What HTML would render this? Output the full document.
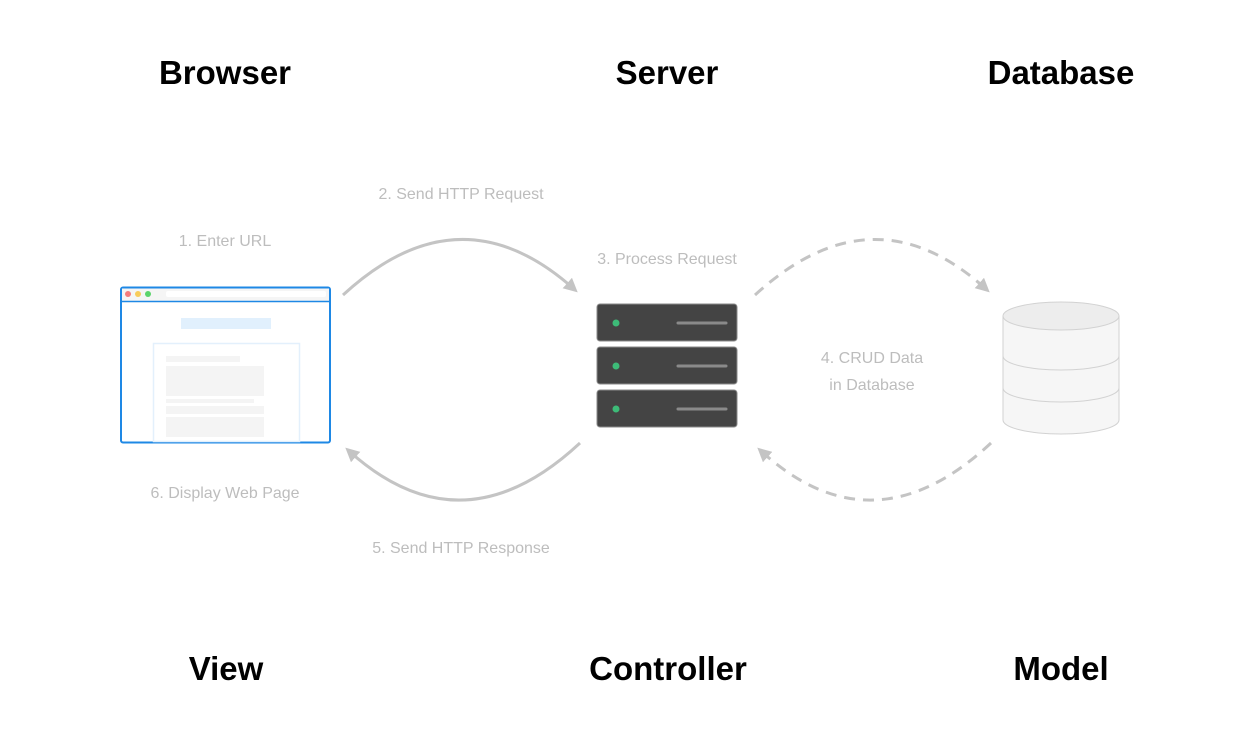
<!DOCTYPE html>
<html><head><meta charset="utf-8"><style>
html,body{margin:0;padding:0;background:#fff;}
svg{display:block;}
.h{font-family:"Liberation Sans",sans-serif;font-weight:bold;font-size:33px;fill:#000;text-anchor:middle;}
.l{font-family:"Liberation Sans",sans-serif;font-size:16px;fill:#bdbdbd;text-anchor:middle;}
</style></head><body>
<svg width="1260" height="740" viewBox="0 0 1260 740" xmlns="http://www.w3.org/2000/svg">
<defs>
<marker id="a" markerWidth="14" markerHeight="14" refX="9" refY="7" orient="auto" markerUnits="userSpaceOnUse" viewBox="0 0 14 14">
<path d="M0,0 L14,7 L0,14 z" fill="#c4c4c4"/></marker>
</defs>
<text class="h" x="225" y="84">Browser</text>
<text class="h" x="667" y="84">Server</text>
<text class="h" x="1061" y="84">Database</text>
<text class="h" x="226" y="680">View</text>
<text class="h" x="668" y="680">Controller</text>
<text class="h" x="1061" y="680">Model</text>

<text class="l" x="225" y="246">1. Enter URL</text>
<text class="l" x="461" y="199">2. Send HTTP Request</text>
<text class="l" x="667" y="264">3. Process Request</text>
<text class="l" x="872" y="363">4. CRUD Data</text>
<text class="l" x="872" y="390">in Database</text>
<text class="l" x="461" y="553">5. Send HTTP Response</text>
<text class="l" x="225" y="498">6. Display Web Page</text>

<g fill="none" stroke="#c4c4c4" stroke-width="3">
<path d="M343,295 Q460,187 574,289" marker-end="url(#a)"/>
<path d="M580,443 Q462,553 349,451" marker-end="url(#a)"/>
<path d="M755,295 Q873,187 986,289" stroke-dasharray="11,8" marker-end="url(#a)"/>
<path d="M991,443 Q873,553 761,451" stroke-dasharray="11,8" marker-end="url(#a)"/>
</g>

<rect x="121" y="287.5" width="209" height="155" rx="2" fill="#fff" stroke="#1e88e5" stroke-width="2"/>
<rect x="122" y="288.5" width="207" height="13" fill="#f5f5f5"/>
<line x1="121" y1="301.5" x2="330" y2="301.5" stroke="#1e88e5" stroke-width="1.5"/>
<circle cx="128" cy="294" r="3" fill="#f47c7c"/>
<circle cx="138" cy="294" r="3" fill="#f8cc5a"/>
<circle cx="148" cy="294" r="3" fill="#5bd46c"/>
<rect x="166" y="291" width="160" height="6" rx="2" fill="#fff"/>
<rect x="181" y="318" width="90" height="11" fill="#e1f0fd"/>
<rect x="153.5" y="343.5" width="146" height="98" fill="none" stroke="#e3f0fc" stroke-width="1.5"/>
<rect x="166" y="356" width="74" height="6" fill="#f4f4f4"/>
<rect x="166" y="366" width="98" height="30" fill="#f4f4f4"/>
<rect x="166" y="399" width="88" height="4" fill="#f4f4f4"/>
<rect x="166" y="406" width="98" height="8" fill="#f4f4f4"/>
<rect x="166" y="417" width="98" height="20" fill="#f4f4f4"/>

<g>
<rect x="597" y="304" width="140" height="37" rx="3" fill="#444" stroke="#8a8a8a" stroke-width="1"/>
<rect x="597" y="347" width="140" height="37" rx="3" fill="#444" stroke="#8a8a8a" stroke-width="1"/>
<rect x="597" y="390" width="140" height="37" rx="3" fill="#444" stroke="#8a8a8a" stroke-width="1"/>
<circle cx="616" cy="323" r="3.5" fill="#3dbb78"/>
<circle cx="616" cy="366" r="3.5" fill="#3dbb78"/>
<circle cx="616" cy="409" r="3.5" fill="#3dbb78"/>
<g stroke="#8a8a8a" stroke-width="3" stroke-linecap="round">
<line x1="678" y1="323" x2="726" y2="323"/>
<line x1="678" y1="366" x2="726" y2="366"/>
<line x1="678" y1="409" x2="726" y2="409"/>
</g>
</g>

<g stroke="#d2d2d2" stroke-width="1">
<path d="M1003,316 L1003,420 A58,14 0 0 0 1119,420 L1119,316" fill="#f6f6f6"/>
<path d="M1003,356 A58,14 0 0 0 1119,356" fill="none"/>
<path d="M1003,388 A58,14 0 0 0 1119,388" fill="none"/>
<ellipse cx="1061" cy="316" rx="58" ry="14" fill="#ededed"/>
</g>
</svg>
</body></html>
